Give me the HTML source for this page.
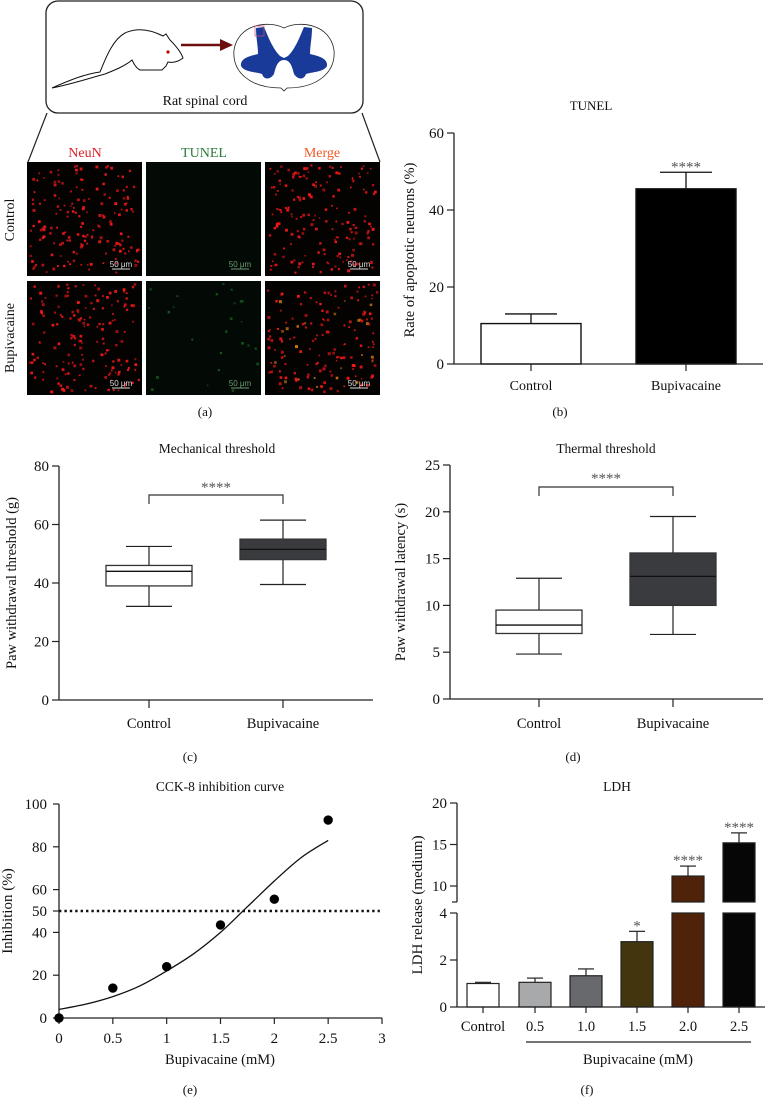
<!DOCTYPE html>
<html><head><meta charset="utf-8">
<style>
html,body{margin:0;padding:0;background:#fff;}
svg{display:block;font-family:"Liberation Serif",serif;}
</style></head>
<body>
<svg id="fig" width="766" height="1097" viewBox="0 0 766 1097" xmlns="http://www.w3.org/2000/svg">
<g id="panelA">
  <rect x="46" y="1" width="317" height="112" rx="12" fill="#fff" stroke="#222" stroke-width="1.3"/>
  <path d="M52,88 C70,80 85,74 100,72 C105,60 112,40 125,33 C140,26 155,32 163,36 L166,34 L170,40 C176,46 181,52 183,58 C178,62 172,63 168,62 L166,66 L162,70 L140,70 C136,68 134,64 132,60 C125,66 115,70 105,74 C90,78 72,84 52,88 Z" fill="#fff" stroke="#111" stroke-width="1"/>
  <circle cx="168" cy="52" r="1.6" fill="#b00"/>
  <line x1="181" y1="45" x2="222" y2="45" stroke="#6b0f0f" stroke-width="2.5"/>
  <polygon points="220,39 233,45 220,51" fill="#6b0f0f"/>
  <path d="M284,28 C300,20 330,24 334,50 C336,72 318,88 287,88 L284,91 L281,88 C250,88 232,72 234,50 C238,24 268,20 284,28 Z" fill="#fff" stroke="#222" stroke-width="0.8"/>
  <path d="M256,28 L264,27 C268,36 272,48 280,56 L284,58 L284,60 C278,60 276,66 274,74 C270,80 264,80 262,74 C256,72 244,72 241,66 C240,58 250,56 258,54 C258,46 256,38 256,28 Z" fill="#1a3a99"/>
  <path d="M312,28 L304,27 C300,36 296,48 288,56 L284,58 L284,60 C290,60 292,66 294,74 C298,80 304,80 306,74 C312,72 324,72 327,66 C328,58 318,56 310,54 C310,46 312,38 312,28 Z" fill="#1a3a99"/>
  <rect x="255" y="26" width="9" height="10" fill="none" stroke="#d05070" stroke-width="0.7"/>
  <text x="205" y="105" font-size="14" text-anchor="middle" fill="#111">Rat spinal cord</text>
  <line x1="47" y1="113" x2="28" y2="162" stroke="#222" stroke-width="1.2"/>
  <line x1="362" y1="113" x2="380" y2="162" stroke="#222" stroke-width="1.2"/>
  <text x="85" y="157" font-size="14" text-anchor="middle" fill="#e0202a">NeuN</text>
  <text x="204" y="157" font-size="14" text-anchor="middle" fill="#2a7a3a">TUNEL</text>
  <text x="322" y="157" font-size="14" text-anchor="middle" fill="#f05a28">Merge</text>
  <text transform="translate(14,220) rotate(-90)" font-size="14" text-anchor="middle" fill="#111">Control</text>
  <text transform="translate(14,338) rotate(-90)" font-size="14" text-anchor="middle" fill="#111">Bupivacaine</text>
  <g id="micro"></g>
  <text x="205" y="416" font-size="13" text-anchor="middle" fill="#111">(a)</text>
</g>
<g id="panelB"></g>
<g id="panelC"></g>
<g id="panelD"></g>
<g id="panelE"></g>
<g id="panelF"></g>
</svg>
<script>
const tunelCategories = ["Control", "Bupivacaine"];
const tunelValues = [10.5, 45.5];
const tunelErrors = [13.0, 49.8];
const tunelStars = ["", "****"];
const tunelTicks = [0, 20, 40, 60];
const mechCategories = ["Control", "Bupivacaine"];
const mechMin = [32, 39.5];
const mechQ1 = [39, 48];
const mechMedian = [44, 51.5];
const mechQ3 = [46, 55];
const mechMax = [52.5, 61.5];
const mechTicks = [0, 20, 40, 60, 80];
const thermCategories = ["Control", "Bupivacaine"];
const thermMin = [4.8, 6.9];
const thermQ1 = [7.0, 10.0];
const thermMedian = [7.9, 13.1];
const thermQ3 = [9.5, 15.6];
const thermMax = [12.9, 19.5];
const thermTicks = [0, 5, 10, 15, 20, 25];
const cckDose = [0, 0.5, 1, 1.5, 2, 2.5];
const cckInhibition = [0, 14, 24, 43.5, 55.5, 92.5];
const fitDose = [0, 0.25, 0.5, 0.75, 1, 1.25, 1.5, 1.75, 2, 2.25, 2.5];
const fitInhibition = [4, 6.5, 10, 15, 22, 30, 40, 52, 64, 75, 83];
const cckXTicks = [0, 0.5, 1, 1.5, 2, 2.5, 3];
const cckXTickLabels = ["0", "0.5", "1", "1.5", "2", "2.5", "3"];
const cckYTicks = [0, 20, 40, 50, 60, 80, 100];
const cckThreshold = 50;
const ldhCategories = ["Control", "0.5", "1.0", "1.5", "2.0", "2.5"];
const ldhValues = [1.0, 1.05, 1.33, 2.78, 11.2, 15.2];
const ldhErrors = [1.05, 1.23, 1.62, 3.22, 12.4, 16.4];
const ldhStars = ["", "", "", "*", "****", "****"];
const ldhLowTicks = [0, 2, 4];
const ldhHighTicks = [10, 15, 20];
const ldhColors = ["#ffffff", "#a7a9ab", "#68696c", "#43360f", "#4f2209", "#060606"];

const NS = "http://www.w3.org/2000/svg";
function mk(parent, tag, attrs, text) {
  const e = document.createElementNS(NS, tag);
  for (const k in attrs) e.setAttribute(k, attrs[k]);
  if (text !== undefined) e.textContent = text;
  parent.appendChild(e);
  return e;
}
function lin(d0, d1, r0, r1) { return v => r0 + (v - d0) / (d1 - d0) * (r1 - r0); }

(function () {
  const g = document.getElementById("micro");
  let seed = 12345;
  const rnd = () => { seed = (seed * 1103515245 + 12345) % 2147483648; return seed / 2147483648; };
  const cols = [27, 146, 265], rows = [162, 281], W = 115, H = 114;
  const names = ["neun", "tunel", "merge"];
  rows.forEach((ry, ri) => {
    cols.forEach((cx, ci) => {
      const r = mk(g, "rect", { x: cx, y: ry, width: W, height: H, fill: ci === 1 ? "#030a05" : "#050202" });
      
      
      const n = ci === 1 ? (ri ? 25 : 0) : 170;
      for (let i = 0; i < n; i++) {
        let col = "#ff1a1a";
        if (ci === 1) col = "#185a20";
        if (ci === 2 && ri === 1 && rnd() < 0.15) col = "#d07a10";
        const s = 1.5 + rnd() * 1.5;
        mk(g, "rect", { x: (cx + 2 + rnd() * (W - 6)).toFixed(1), y: (ry + 2 + rnd() * (H - 6)).toFixed(1), width: s.toFixed(1), height: s.toFixed(1), fill: col, opacity: (0.55 + rnd() * 0.4).toFixed(2) });
      }
      const sbc = ci === 1 ? "#6a9a70" : "#dddddd";
      const sb = mk(g, "line", { x1: cx + W - 30, x2: cx + W - 12, y1: ry + H - 7, y2: ry + H - 7, stroke: sbc, "stroke-width": 1 });
      
      
      const st = mk(g, "text", { x: cx + W - 21, y: ry + H - 9, "font-size": 8, "text-anchor": "middle", fill: sbc, "font-family": "Liberation Sans, sans-serif" }, "50 μm");
      
      
    });
  });
})();

function axisY(g, x, ticks, y, labelFmt, fs) {
  ticks.forEach(t => {
    mk(g, "line", { x1: x - 7, x2: x, y1: y(t), y2: y(t), stroke: "#222", "stroke-width": 1.2 });
    const tl = mk(g, "text", { x: x - 10, y: y(t) + 5, "font-size": fs || 15, "text-anchor": "end", fill: "#111" }, labelFmt ? labelFmt(t) : t);
    
    
  });
}
function txt(g, x, y, s, fs, name, anchor, rot) {
  const a = { "font-size": fs, "text-anchor": anchor || "middle", fill: "#111" };
  if (rot) a.transform = "translate(" + x + "," + y + ") rotate(-90)"; else { a.x = x; a.y = y; }
  const t = mk(g, "text", a, s);
  
  
  return t;
}
function stars(g, x, y, s) {
  const t = txt(g, x, y + 4, s, 15, "significance-stars");
  t.setAttribute("fill", "#555");
  return t;
}

(function () {
  const g = document.getElementById("panelB");
  const ax = 454, y = lin(0, 60, 364, 133);
  const cx = [531, 686], bw = 100;
  txt(g, 591, 110, "TUNEL", 13, "chart-title-tunel");
  tunelCategories.forEach((c, i) => {
    const b = mk(g, "rect", { x: cx[i] - bw / 2, y: y(tunelValues[i]), width: bw, height: y(0) - y(tunelValues[i]), fill: i ? "#000" : "#fff", stroke: "#111", "stroke-width": 1.4 });
    
    
    mk(g, "line", { x1: cx[i], x2: cx[i], y1: y(tunelValues[i]), y2: y(tunelErrors[i]), stroke: "#111", "stroke-width": 1.3 });
    mk(g, "line", { x1: cx[i] - 26, x2: cx[i] + 26, y1: y(tunelErrors[i]), y2: y(tunelErrors[i]), stroke: "#111", "stroke-width": 1.3 });
    if (tunelStars[i]) stars(g, cx[i], y(tunelErrors[i]) - 5, tunelStars[i]);
    mk(g, "line", { x1: cx[i], x2: cx[i], y1: 364, y2: 371, stroke: "#222", "stroke-width": 1.2 });
    txt(g, cx[i], 390, c, 14, "x-tick-label");
  });
  mk(g, "line", { x1: ax, x2: ax, y1: 133, y2: 364, stroke: "#222", "stroke-width": 1.3 });
  mk(g, "line", { x1: ax, x2: 763, y1: 364, y2: 364, stroke: "#222", "stroke-width": 1.3 });
  axisY(g, ax, tunelTicks, y);
  txt(g, 414, 250, "Rate of apoptotic neurons (%)", 14.5, "y-axis-title-tunel", "middle", true);
  txt(g, 560, 416, "(b)", 13, "panel-b-label");
})();

function boxPanel(id, ax, y0, yTop, dmax, ticks, cx, mins, q1, med, q3, maxs, cats, fills, title, titleX, ylabel, ylabX, brY, stY, xEnd, plabel, plabX) {
  const g = document.getElementById(id);
  const y = lin(0, dmax, y0, yTop);
  const hw = 43;
  txt(g, titleX, 453, title, 13.5, "chart-title");
  cats.forEach((c, i) => {
    const w1 = mk(g, "line", { x1: cx[i], x2: cx[i], y1: y(maxs[i]), y2: y(mins[i]), stroke: "#222", "stroke-width": 1.2 });
    
    
    mk(g, "line", { x1: cx[i] - 23, x2: cx[i] + 23, y1: y(maxs[i]), y2: y(maxs[i]), stroke: "#222", "stroke-width": 1.2 });
    mk(g, "line", { x1: cx[i] - 23, x2: cx[i] + 23, y1: y(mins[i]), y2: y(mins[i]), stroke: "#222", "stroke-width": 1.2 });
    const b = mk(g, "rect", { x: cx[i] - hw, y: y(q3[i]), width: 2 * hw, height: y(q1[i]) - y(q3[i]), fill: fills[i], stroke: "#333", "stroke-width": 1.3 });
    
    
    mk(g, "line", { x1: cx[i] - hw, x2: cx[i] + hw, y1: y(med[i]), y2: y(med[i]), stroke: "#111", "stroke-width": 1.3 });
    mk(g, "line", { x1: cx[i], x2: cx[i], y1: y0, y2: y0 + 8, stroke: "#222", "stroke-width": 1.2 });
    txt(g, cx[i], 728, c, 14.5, "x-tick-label");
  });
  const br = mk(g, "path", { d: "M" + cx[0] + "," + (brY + 9) + " V" + brY + " H" + cx[1] + " V" + (brY + 9), fill: "none", stroke: "#333", "stroke-width": 1.2 });
  
  
  stars(g, (cx[0] + cx[1]) / 2, stY, "****");
  mk(g, "line", { x1: ax, x2: ax, y1: yTop, y2: y0, stroke: "#222", "stroke-width": 1.3 });
  mk(g, "line", { x1: ax, x2: xEnd, y1: y0, y2: y0, stroke: "#222", "stroke-width": 1.3 });
  axisY(g, ax, ticks, y);
  txt(g, ylabX, (y0 + yTop) / 2, ylabel, 14.5, "y-axis-title", "middle", true);
  txt(g, plabX, 761, plabel, 13, "panel-label");
}
boxPanel("panelC", 59, 700, 466, 80, mechTicks, [149, 283], mechMin, mechQ1, mechMedian, mechQ3, mechMax, mechCategories, ["#fff", "#3a3b3f"], "Mechanical threshold", 217, "Paw withdrawal threshold (g)", 16, 495, 488, 373, "(c)", 190);
boxPanel("panelD", 450, 699, 465, 25, thermTicks, [539, 673], thermMin, thermQ1, thermMedian, thermQ3, thermMax, thermCategories, ["#fff", "#3a3b3f"], "Thermal threshold", 606, "Paw withdrawal latency (s)", 405, 487, 479, 763, "(d)", 573);

(function () {
  const g = document.getElementById("panelE");
  const x = lin(0, 3, 59, 382), y = lin(0, 100, 1018, 804);
  txt(g, 220, 791, "CCK-8 inhibition curve", 13.5, "chart-title-cck8");
  mk(g, "line", { x1: 59, x2: 59, y1: 804, y2: 1018, stroke: "#222", "stroke-width": 1.3 });
  mk(g, "line", { x1: 54, x2: 382, y1: 1018, y2: 1018, stroke: "#222", "stroke-width": 1.3 });
  cckYTicks.forEach(t => {
    mk(g, "line", { x1: 53, x2: 59, y1: y(t), y2: y(t), stroke: "#222", "stroke-width": 1.2 });
    txt(g, 47, y(t) + 5, t, 15, "y-tick-label", "end");
  });
  cckXTicks.forEach((t, i) => {
    mk(g, "line", { x1: x(t), x2: x(t), y1: 1018, y2: 1024, stroke: "#222", "stroke-width": 1.2 });
    txt(g, x(t), 1043, cckXTickLabels[i], 15, "x-tick-label");
  });
  const th = mk(g, "line", { x1: x(0), x2: x(2.98), y1: y(cckThreshold), y2: y(cckThreshold), stroke: "#111", "stroke-width": 2.4, "stroke-dasharray": "2.4 3" });
  
  
  const pts = fitDose.map((v, i) => [x(v), y(fitInhibition[i])]);
  let d = "M" + pts[0][0].toFixed(1) + "," + pts[0][1].toFixed(1);
  for (let i = 0; i < pts.length - 1; i++) {
    const p0 = pts[Math.max(0, i - 1)], p1 = pts[i], p2 = pts[i + 1], p3 = pts[Math.min(pts.length - 1, i + 2)];
    const c1 = [p1[0] + (p2[0] - p0[0]) / 6, p1[1] + (p2[1] - p0[1]) / 6];
    const c2 = [p2[0] - (p3[0] - p1[0]) / 6, p2[1] - (p3[1] - p1[1]) / 6];
    d += " C" + c1.map(n => n.toFixed(1)).join(",") + " " + c2.map(n => n.toFixed(1)).join(",") + " " + p2.map(n => n.toFixed(1)).join(",");
  }
  const fit = mk(g, "path", { d: d, fill: "none", stroke: "#111", "stroke-width": 1.3 });
  
  
  cckDose.forEach((v, i) => {
    const p = mk(g, "circle", { cx: x(v), cy: y(cckInhibition[i]), r: 4.7, fill: "#000" });
    
    
  });
  txt(g, 220, 1064, "Bupivacaine (mM)", 14.5, "x-axis-title-cck8");
  txt(g, 12, 911, "Inhibition (%)", 15, "y-axis-title-cck8", "middle", true);
  txt(g, 190, 1094, "(e)", 13, "panel-e-label");
})();

(function () {
  const g = document.getElementById("panelF");
  const ax = 457;
  const yLow = lin(0, 4, 1007, 913);
  const yHigh = lin(10, 20, 886, 803);
  const breakTop = 902, breakLow = 913;
  const cx = [483, 535, 586, 637, 688, 739], bw = 32;
  const Y = v => v <= 4 ? yLow(v) : yHigh(v);
  txt(g, 617, 791, "LDH", 13.5, "chart-title-ldh");
  ldhCategories.forEach((c, i) => {
    const v = ldhValues[i];
    if (v <= 4) {
      const b = mk(g, "rect", { x: cx[i] - bw / 2, y: yLow(v), width: bw, height: yLow(0) - yLow(v), fill: ldhColors[i], stroke: "#222", "stroke-width": 1.2 });
      
      
    } else {
      const b = mk(g, "rect", { x: cx[i] - bw / 2, y: breakLow, width: bw, height: yLow(0) - breakLow, fill: ldhColors[i], stroke: "#222", "stroke-width": 1.2 });
      
      
      const b2 = mk(g, "rect", { x: cx[i] - bw / 2, y: yHigh(v), width: bw, height: breakTop - yHigh(v), fill: ldhColors[i], stroke: "#222", "stroke-width": 1.2 });
      
      
    }
    mk(g, "line", { x1: cx[i], x2: cx[i], y1: Y(v), y2: Y(ldhErrors[i]), stroke: "#222", "stroke-width": 1.2 });
    mk(g, "line", { x1: cx[i] - 8, x2: cx[i] + 8, y1: Y(ldhErrors[i]), y2: Y(ldhErrors[i]), stroke: "#222", "stroke-width": 1.2 });
    if (ldhStars[i]) stars(g, cx[i], Y(ldhErrors[i]) - 5, ldhStars[i]);
    mk(g, "line", { x1: cx[i], x2: cx[i], y1: 1007, y2: 1013, stroke: "#222", "stroke-width": 1.2 });
    txt(g, cx[i], 1031, c, 14.5, "x-tick-label");
  });
  mk(g, "line", { x1: ax, x2: ax, y1: 803, y2: breakTop, stroke: "#222", "stroke-width": 1.3 });
  mk(g, "line", { x1: ax, x2: ax, y1: breakLow, y2: 1007, stroke: "#222", "stroke-width": 1.3 });
  mk(g, "line", { x1: ax - 5, x2: ax, y1: breakTop, y2: breakTop, stroke: "#222", "stroke-width": 1.2 });
  mk(g, "line", { x1: ax, x2: 765, y1: 1007, y2: 1007, stroke: "#222", "stroke-width": 1.3 });
  axisY(g, ax, ldhLowTicks, yLow);
  axisY(g, ax, ldhHighTicks, yHigh);
  const br = mk(g, "line", { x1: 526, x2: 751, y1: 1042, y2: 1042, stroke: "#222", "stroke-width": 1.2 });
  
  
  txt(g, 638, 1064, "Bupivacaine (mM)", 14.5, "x-axis-title-ldh");
  txt(g, 422, 905, "LDH release (medium)", 15, "y-axis-title-ldh", "middle", true);
  txt(g, 587, 1094, "(f)", 13, "panel-f-label");
})();
</script>
</body></html>
